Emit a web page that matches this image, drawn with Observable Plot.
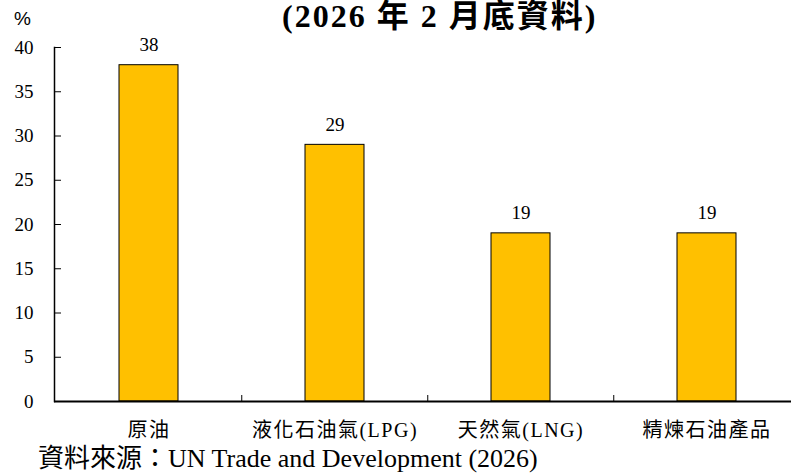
<!DOCTYPE html>
<html><head><meta charset="utf-8">
<script src="https://cdn.jsdelivr.net/npm/d3@7"></script>
<script src="https://cdn.jsdelivr.net/npm/@observablehq/plot@0.6"></script>
<style>
body{margin:0;overflow:hidden;background:#fff;}
#wrap{position:relative;width:791px;height:473px;overflow:hidden;font-family:"Liberation Serif","Noto Sans CJK TC",serif;color:#000;}
#title{position:absolute;top:0px;left:282px;font-family:"Liberation Serif","Noto Sans CJK TC",serif;font-size:32px;font-weight:bold;white-space:nowrap;line-height:1;letter-spacing:2px;}
#unit{position:absolute;left:14px;top:8px;font-size:19px;font-family:"Liberation Sans","DejaVu Sans",sans-serif;}
#source{position:absolute;left:38px;top:446px;font-size:26px;line-height:1;white-space:nowrap;}
#chart{position:absolute;left:0;top:0;width:800px;}
#chart svg{max-width:none !important;}
#chart svg, #chart svg text{font-family:"Liberation Serif","Noto Sans CJK TC",serif !important;}
g[aria-label="x-axis tick label"] text{letter-spacing:1.5px;}
</style>
</head><body>
<div id="wrap">
  <div id="chart"></div>
  <div id="title">(2026 年 2 月底資料)</div>
  <div id="unit">%</div>
  <div id="source">資料來源：UN Trade and Development (2026)</div>
</div>
<script>
const categories = ["原油", "液化石油氣(LPG)", "天然氣(LNG)", "精煉石油產品"];
const values = [38, 29, 19, 19];
const yTicks = [0, 5, 10, 15, 20, 25, 30, 35, 40];

const data = categories.map((c, i) => ({cat: c, value: values[i]}));
const W = 800, ML = 54, MR = 0;
const step = (W - ML - MR) / categories.length;

const chart = Plot.plot({
  width: W, height: 473,
  marginLeft: ML, marginRight: MR, marginTop: 47, marginBottom: 72,
  style: {fontSize: "19px", color: "#000", background: "transparent"},
  x: {domain: categories, paddingInner: 0.684, paddingOuter: 0.342, align: 0.5},
  y: {domain: [0, 40]},
  marks: [
    Plot.barY(data, {x: "cat", y: "value", fill: "#FFC000", stroke: "#000", strokeWidth: 1}),
    Plot.text(data, {x: "cat", y: "value", text: d => String(d.value), dy: -20, fontSize: 19}),
    Plot.axisY({ticks: yTicks, tickSize: 0, tickPadding: 21, fontSize: 19, label: null}),
    Plot.axisY({ticks: yTicks, tickSize: -7, tickFormat: () => "", label: null}),
    Plot.frame({anchor: "left", strokeWidth: 1.5}),
    Plot.ruleY([0], {strokeWidth: 2}),
    Plot.axisX({ticks: categories.slice(1), tickSize: -6, dx: -step / 2, tickFormat: () => "", label: null}),
    Plot.axisX({tickSize: 0, tickPadding: 21, fontSize: 20, label: null})
  ]
});
document.getElementById("chart").appendChild(chart);
</script>
</body></html>
